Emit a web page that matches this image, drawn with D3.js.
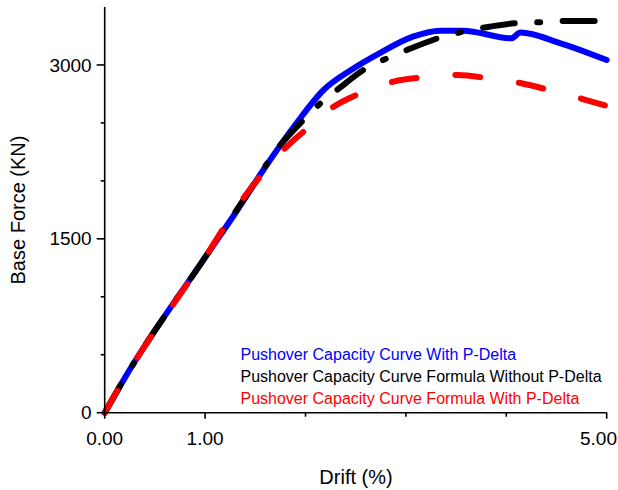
<!DOCTYPE html>
<html>
<head>
<meta charset="utf-8">
<script src="https://cdn.jsdelivr.net/npm/d3@7"></script>
<style>
  body { margin: 0; background: #fff; }
  svg { font-family: "Liberation Sans", Arial, sans-serif; }
</style>
</head>
<body>
<div id="chart"></div>
<script>
// drift (%) / base force (KN)
const blueDrift  = [0, 0.2, 1.0, 1.315, 1.58, 1.91, 2.18, 2.45, 2.74, 3.07, 3.34, 3.57, 4.05, 4.14, 4.54, 5.0];
const blueForce  = [0, 300, 1340, 1740, 2094, 2497, 2784, 2955, 3103, 3244, 3296, 3296, 3230, 3279, 3187, 3043];

const blackDrift = [0, 0.2, 1.0, 1.4, 1.75, 1.98, 2.13, 2.33, 2.61, 2.79, 3.01, 3.37, 3.57, 3.8, 4.17, 4.39, 4.6, 5.0];
const blackForce = [0, 300, 1340, 1860, 2310, 2526, 2655, 2795, 2975, 3049, 3129, 3244, 3287, 3325, 3365, 3370, 3380, 3380];

const redDrift   = [0, 0.2, 1.0, 1.38, 1.547, 1.78, 1.98, 2.28, 2.53, 2.875, 3.19, 3.52, 3.82, 4.15, 4.45, 4.77, 5.0];
const redForce   = [0, 300, 1340, 1850, 2036, 2267, 2425, 2640, 2750, 2856, 2894, 2914, 2885, 2842, 2778, 2704, 2646];

const legendLabels = [
  "Pushover Capacity Curve With P-Delta",
  "Pushover Capacity Curve Formula Without P-Delta",
  "Pushover Capacity Curve Formula With P-Delta"
];
const xTickLabels = {0: "0.00", 1: "1.00", 5: "5.00"};
const yMajor = [0, 1500, 3000];

const width = 618, height = 490;
const svg = d3.select("#chart").append("svg")
  .attr("width", width)
  .attr("height", height);

const x = d3.scaleLinear().domain([0, 5]).range([104.7, 606.7]);
const y = d3.scaleLinear().domain([0, 3500]).range([412.7, 7]);

const series = [
  {drift: blueDrift,  force: blueForce,  color: "#0000ff", dash: null},
  {drift: blackDrift, force: blackForce, color: "#000000", dash: "32,22.5,3,22.5"},
  {drift: redDrift,   force: redForce,   color: "#ff0000", dash: "25,39"}
];

const line = d3.line()
  .x(d => x(d[0]))
  .y(d => y(d[1]))
  .curve(d3.curveMonotoneX);

svg.append("g").selectAll("path")
  .data(series)
  .join("path")
    .attr("d", s => line(d3.zip(s.drift, s.force)))
    .attr("fill", "none")
    .attr("stroke", s => s.color)
    .attr("stroke-width", 6)
    .attr("stroke-linecap", "round")
    .attr("stroke-linejoin", "round")
    .attr("stroke-dasharray", s => s.dash);

// y axis: minor ticks every 500, labels at 0 / 1500 / 3000
const yAxis = svg.append("g").attr("transform", `translate(${x(0)},0)`);
yAxis.append("line")
  .attr("y1", y(3500)).attr("y2", y(0))
  .attr("stroke", "#000").attr("stroke-width", 1.6);
yAxis.selectAll(".tick")
  .data(d3.range(0, 3001, 500))
  .join("line")
    .attr("x1", d => yMajor.includes(d) ? -8 : -4).attr("x2", 0)
    .attr("y1", d => y(d)).attr("y2", d => y(d))
    .attr("stroke", "#000").attr("stroke-width", 1.6);
yAxis.selectAll("text")
  .data(yMajor)
  .join("text")
    .attr("x", -13)
    .attr("y", d => y(d))
    .attr("dy", "0.35em")
    .attr("text-anchor", "end")
    .attr("font-size", 19)
    .text(d => d);

// x axis
const xAxis = svg.append("g").attr("transform", `translate(0,${y(0)})`);
xAxis.append("line")
  .attr("x1", x(0)).attr("x2", x(5))
  .attr("stroke", "#000").attr("stroke-width", 1.6);
xAxis.selectAll(".tick")
  .data(d3.range(0, 6))
  .join("line")
    .attr("x1", d => x(d)).attr("x2", d => x(d))
    .attr("y1", 0).attr("y2", d => xTickLabels[d] ? 6 : 4)
    .attr("stroke", "#000").attr("stroke-width", 1.6);
xAxis.selectAll("text")
  .data(Object.keys(xTickLabels).map(Number))
  .join("text")
    .attr("x", d => d === 5 ? width - 1 : x(d))
    .attr("y", 32)
    .attr("text-anchor", d => d === 5 ? "end" : "middle")
    .attr("font-size", 19)
    .text(d => xTickLabels[d]);

// axis titles
svg.append("text")
  .attr("x", 356)
  .attr("y", 484)
  .attr("text-anchor", "middle")
  .attr("font-size", 20)
  .text("Drift (%)");

svg.append("text")
  .attr("transform", "translate(25,210) rotate(-90)")
  .attr("text-anchor", "middle")
  .attr("font-size", 20)
  .text("Base Force (KN)");

// legend
svg.append("g").selectAll("text")
  .data(legendLabels)
  .join("text")
    .attr("x", 240.5)
    .attr("y", (d, i) => 359.5 + i * 22)
    .attr("font-size", 16)
    .attr("fill", (d, i) => series[i].color)
    .text(d => d);
</script>
</body>
</html>
